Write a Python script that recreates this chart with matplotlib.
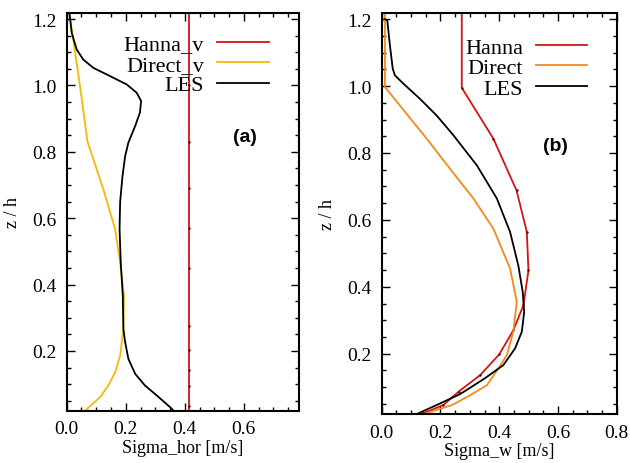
import matplotlib
matplotlib.use("Agg")
import matplotlib.pyplot as plt
from matplotlib.ticker import MultipleLocator

plt.rcParams['font.family'] = ['Liberation Serif', 'DejaVu Serif']

# ---- panel (a): horizontal sigma ----
hanna_v_x = [0.415] * 12
hanna_v_z = [0.02, 0.033, 0.093, 0.143, 0.203, 0.276, 0.45, 0.57, 0.69, 0.83, 1.0, 1.22]

direct_v_x = [0.009, 0.045, 0.070, 0.124, 0.164, 0.181, 0.194, 0.192, 0.181, 0.164, 0.141, 0.113, 0.062]
direct_v_z = [1.219, 0.998, 0.832, 0.687, 0.567, 0.467, 0.366, 0.266, 0.186, 0.136, 0.096, 0.061, 0.020]

les_a_x = [0.009, 0.017, 0.034, 0.056, 0.090, 0.147, 0.203, 0.237, 0.252, 0.248, 0.232, 0.209,
           0.198, 0.189, 0.181, 0.179, 0.183, 0.190, 0.192, 0.198, 0.209, 0.232, 0.265, 0.305, 0.356, 0.362]
les_a_z = [1.219, 1.158, 1.108, 1.078, 1.053, 1.028, 1.003, 0.978, 0.953, 0.918, 0.878, 0.828,
           0.787, 0.727, 0.650, 0.567, 0.467, 0.366, 0.266, 0.226, 0.176, 0.131, 0.096, 0.066, 0.026, 0.020]

# ---- panel (b): vertical sigma ----
hanna_x = [0.2725, 0.2725, 0.380, 0.459, 0.494, 0.4995, 0.4825, 0.448, 0.400, 0.335, 0.262, 0.210, 0.142]
hanna_z = [1.22, 0.995, 0.843, 0.688, 0.564, 0.449, 0.345, 0.270, 0.198, 0.136, 0.087, 0.047, 0.022]

direct_x = [0.011, 0.011, 0.153, 0.235, 0.312, 0.380, 0.437, 0.460, 0.448, 0.426, 0.397, 0.358,
            0.301, 0.240, 0.150]
direct_z = [1.22, 0.997, 0.843, 0.750, 0.664, 0.574, 0.455, 0.355, 0.266, 0.196, 0.156, 0.106,
            0.076, 0.047, 0.022]

les_b_x = [0.011, 0.019, 0.028, 0.0375, 0.045, 0.074, 0.130, 0.187, 0.244, 0.324, 0.392, 0.437,
           0.465, 0.480, 0.485, 0.477, 0.454, 0.414, 0.350, 0.268, 0.195, 0.125]
les_b_z = [1.20, 1.196, 1.121, 1.052, 1.032, 1.007, 0.962, 0.912, 0.853, 0.763, 0.664, 0.564,
           0.464, 0.385, 0.325, 0.266, 0.216, 0.166, 0.126, 0.080, 0.050, 0.022]

RED = '#d41414'
YELLOW = '#f5b70a'
ORANGE = '#f28a1a'

fig = plt.figure(figsize=(6.3, 4.64), dpi=100)
ax1 = fig.add_axes([0.1059, 0.1127, 0.3683, 0.857])
ax2 = fig.add_axes([0.6059, 0.1056, 0.3730, 0.864])


def style_axes(ax, xmax):
    ax.set_xlim(0, xmax)
    ax.set_ylim(0.02, 1.218)
    ax.xaxis.set_major_locator(MultipleLocator(0.2))
    ax.xaxis.set_minor_locator(MultipleLocator(0.05))
    ax.yaxis.set_major_locator(MultipleLocator(0.2))
    ax.yaxis.set_minor_locator(MultipleLocator(0.05))
    ax.tick_params(which='both', direction='in', top=True, right=True, labelsize=14, width=1)
    ax.tick_params(which='major', length=6, pad=7)
    ax.tick_params(which='minor', length=3)
    for s in ax.spines.values():
        s.set_linewidth(1.5)
    ax.set_ylabel('z / h', fontsize=13, labelpad=8)


# panel (a)
ax1.plot(hanna_v_x, hanna_v_z, color=RED, lw=1.3, label='Hanna_v',
         marker='.', ms=1.5, mec='#600000', mfc='#600000')
ax1.plot(direct_v_x, direct_v_z, color=YELLOW, lw=1.3, label='Direct_v')
ax1.plot(les_a_x, les_a_z, color='black', lw=1.3, label='LES')
style_axes(ax1, 0.786)
ax1.set_xlabel('Sigma_hor [m/s]', fontsize=13, labelpad=1)
ax1.text(0.77, 0.69, '(a)', transform=ax1.transAxes, ha='center', va='center',
         fontsize=14, fontweight='bold', family=['Liberation Sans', 'DejaVu Sans'])
leg1 = ax1.legend(loc='upper right', bbox_to_anchor=(0.87, 0.948), frameon=False, markerfirst=False,
                  fontsize=16, handlelength=2.3, handletextpad=0.6, labelspacing=0.0,
                  borderpad=0, borderaxespad=0)
for h in leg1.legend_handles:
    h.set_marker('')

# panel (b)
ax2.plot(hanna_x, hanna_z, color=RED, lw=1.3, label='Hanna',
         marker='.', ms=1.5, mec='#600000', mfc='#600000')
ax2.plot(direct_x, direct_z, color=ORANGE, lw=1.3, label='Direct')
ax2.plot(les_b_x, les_b_z, color='black', lw=1.3, label='LES')
style_axes(ax2, 0.8)
ax2.set_xlabel('Sigma_w [m/s]', fontsize=13, labelpad=1)
ax2.text(0.74, 0.67, '(b)', transform=ax2.transAxes, ha='center', va='center',
         fontsize=14, fontweight='bold', family=['Liberation Sans', 'DejaVu Sans'])
leg2 = ax2.legend(loc='upper right', bbox_to_anchor=(0.875, 0.94), frameon=False, markerfirst=False,
                  fontsize=16, handlelength=2.3, handletextpad=0.6, labelspacing=0.0,
                  borderpad=0, borderaxespad=0)
for h in leg2.legend_handles:
    h.set_marker('')

fig.savefig('out.png', dpi=100)
